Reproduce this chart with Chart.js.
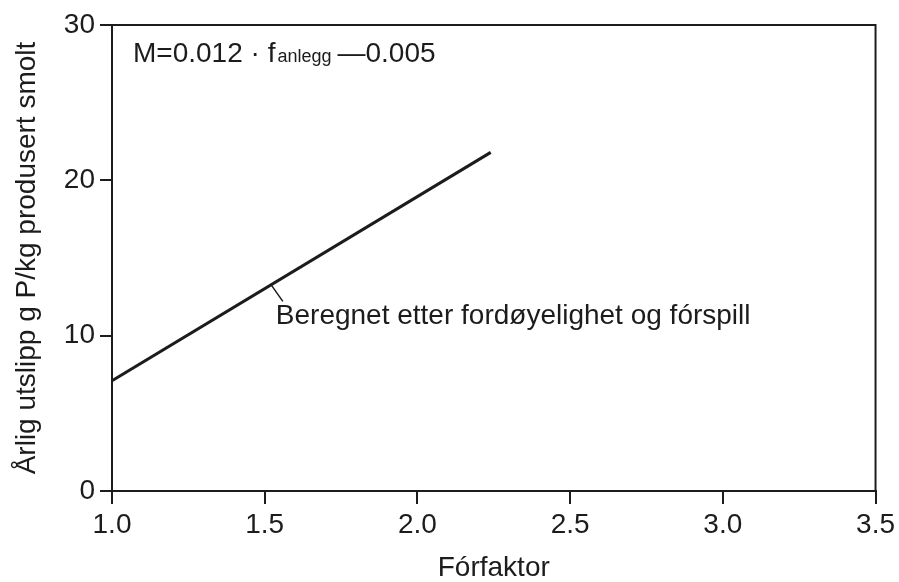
<!DOCTYPE html>
<html>
<head>
<meta charset="utf-8">
<script src="https://cdn.jsdelivr.net/npm/chart.js@4.4.1/dist/chart.umd.min.js"></script>
<style>
    html, body { margin: 0; padding: 0; background: #ffffff; }
    #wrap { width: 899px; height: 582px; }
</style>
</head>
<body>
<div id="wrap"><canvas id="utslippChart" width="899" height="582"></canvas></div>
<script>
// values
const forfaktor = [1.0, 2.24];
const utslipp = [7.1, 21.8];
const xTickValues = [1.0, 1.5, 2.0, 2.5, 3.0, 3.5];
const yTickValues = [0, 10, 20, 30];
const xTitle = 'Fórfaktor';
const yTitle = 'Årlig utslipp g P/kg produsert smolt';
const lineLabel = 'Beregnet etter fordøyelighet og fórspill';
const lineLabelAt = [1.52, 13.3]; // point on the line where the leader starts

var INK = '#1c1c1c';
var FONT = '"Liberation Sans", Arial, Helvetica, sans-serif';

// frame on top and right + the formula and the line label
const figureDecor = {
    id: 'figureDecor',
    afterDraw: function (chart) {
        var ctx = chart.ctx;
        var a = chart.chartArea;
        var xs = chart.scales.x, ys = chart.scales.y;
        ctx.save();
        ctx.strokeStyle = INK;
        ctx.lineWidth = 2;
        ctx.beginPath();
        ctx.moveTo(a.left, a.top);
        ctx.lineTo(a.right, a.top);
        ctx.lineTo(a.right, a.bottom);
        ctx.stroke();

        // formula M=0.012 · f_anlegg —0.005
        ctx.fillStyle = INK;
        ctx.textBaseline = 'alphabetic';
        ctx.textAlign = 'left';
        var x = a.left + 21, y = a.top + 37;
        ctx.font = '28px ' + FONT;
        var t1 = 'M=0.012 · f';
        ctx.fillText(t1, x, y);
        x += ctx.measureText(t1).width + 2;
        ctx.font = '18px ' + FONT;
        ctx.fillText('anlegg', x, y);
        x += ctx.measureText('anlegg').width + 6;
        ctx.font = '28px ' + FONT;
        ctx.fillText('—0.005', x, y);

        // leader and label
        var px = xs.getPixelForValue(lineLabelAt[0]);
        var py = ys.getPixelForValue(lineLabelAt[1]);
        ctx.lineWidth = 1.5;
        ctx.beginPath();
        ctx.moveTo(px, py);
        ctx.lineTo(px + 12, py + 17);
        ctx.stroke();
        ctx.textBaseline = 'middle';
        ctx.font = '28px ' + FONT;
        ctx.fillText(lineLabel, px + 5, py + 32);
        ctx.restore();
    }
};

var ctx = document.getElementById('utslippChart').getContext('2d');
var myChart = new Chart(ctx, {
    type: 'scatter',
    plugins: [figureDecor],
    data: {
        datasets: [{
            data: forfaktor.map(function (v, i) { return { x: v, y: utslipp[i] }; }),
            showLine: true,
            borderColor: INK,
            borderWidth: 3,
            pointRadius: 0,
            fill: false
        }]
    },
    options: {
        responsive: false,
        animation: false,
        layout: {
            padding: { top: 25, right: 21, left: 0, bottom: 0 }
        },
        plugins: {
            legend: { display: false },
            tooltip: { enabled: false }
        },
        scales: {
            x: {
                type: 'linear',
                min: xTickValues[0],
                max: xTickValues[xTickValues.length - 1],
                afterBuildTicks: function (scale) {
                    scale.ticks = xTickValues.map(function (v) { return { value: v }; });
                },
                afterFit: function (scale) { scale.height = 91; },
                ticks: {
                    color: INK,
                    font: { family: FONT, size: 28 },
                    padding: 4,
                    maxRotation: 0,
                    callback: function (v) { return Number(v).toFixed(1); }
                },
                grid: { drawOnChartArea: false, tickLength: 13, color: INK, lineWidth: 2 },
                border: { display: true, color: INK, width: 2 },
                title: {
                    display: true,
                    text: xTitle,
                    color: INK,
                    font: { family: FONT, size: 28, lineHeight: 1 },
                    padding: { top: 0, bottom: 0 }
                }
            },
            y: {
                min: yTickValues[0],
                max: yTickValues[yTickValues.length - 1],
                afterBuildTicks: function (scale) {
                    scale.ticks = yTickValues.map(function (v) { return { value: v }; });
                },
                afterFit: function (scale) { scale.width = 112; },
                ticks: {
                    color: INK,
                    font: { family: FONT, size: 28 },
                    padding: 5
                },
                grid: { drawOnChartArea: false, tickLength: 12, color: INK, lineWidth: 2 },
                border: { display: true, color: INK, width: 2 },
                title: {
                    display: true,
                    text: yTitle,
                    color: INK,
                    font: { family: FONT, size: 28, lineHeight: 1 },
                    padding: { top: 13, bottom: 0 }
                }
            }
        }
    }
});
</script>
</body>
</html>
